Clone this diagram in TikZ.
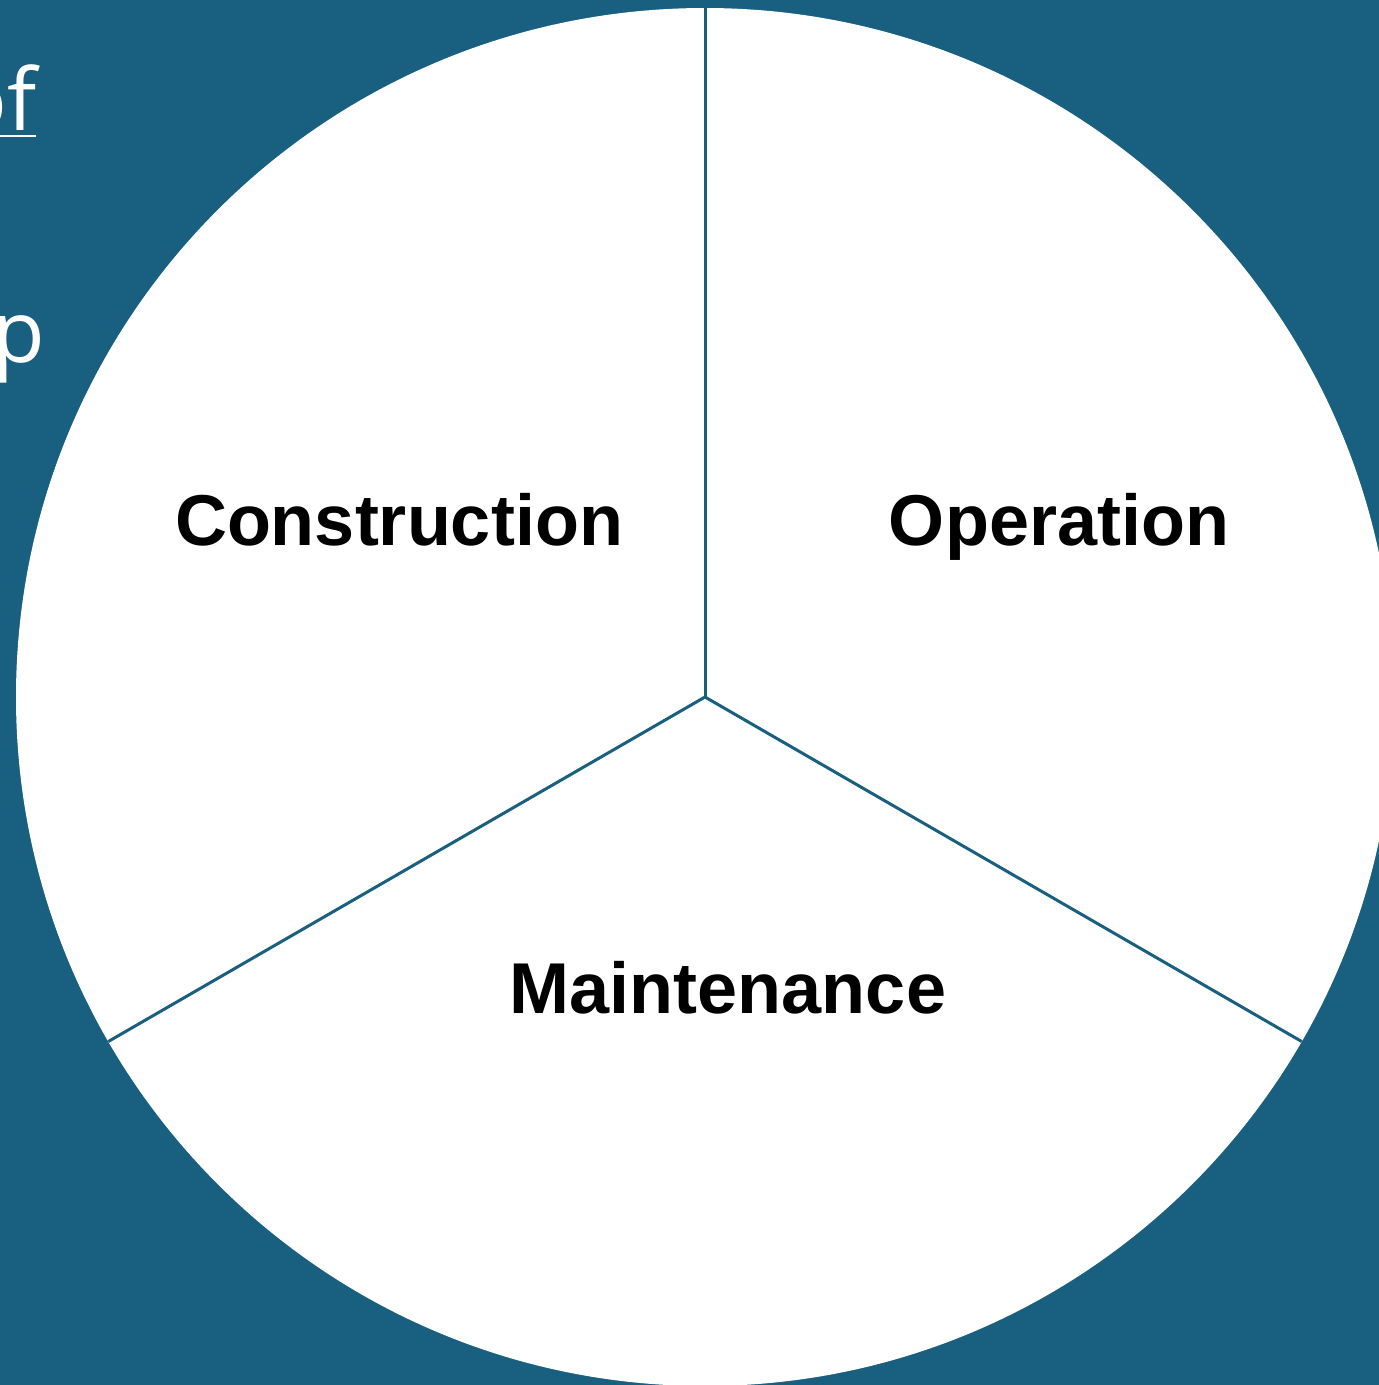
\documentclass[tikz,border=0pt]{standalone}
\usepackage{fontspec}
\usetikzlibrary{calc}
\setmainfont{Liberation Sans}
\newfontfamily\slidefont{Open Sans}
\definecolor{bgblue}{HTML}{185F80}
\tikzset{
  seglabel/.style={font=\fontsize{72}{78}\selectfont\bfseries, text=black, inner sep=0pt, anchor=base},
  slidetext/.style={font=\slidefont\fontsize{86}{90}\selectfont, text=white, inner sep=0pt, anchor=base east},
  divider/.style={draw=bgblue, line width=3pt}
}
\begin{document}
\begin{tikzpicture}[x=1pt,y=-1pt]
\useasboundingbox (0,0) rectangle (1379,1385);
\clip (0,0) rectangle (1379,1385);
\fill[bgblue] (0,0) rectangle (1379,1385);
\node[slidetext] (of) at (37,130) {of};
\draw[white, line width=2.5pt] (0,136) -- (36,136);
\node[slidetext] (p) at (45,362) {p};
\coordinate (c) at (705,697);
\fill[white] (c) circle[radius=689];
\coordinate (top) at ($(c)+(0,-689)$);
\coordinate (bl) at (108.3,1041.5);
\coordinate (br) at (1301.7,1041.5);
\draw[divider] (c) -- (top);
\draw[divider] (c) -- (bl);
\draw[divider] (c) -- (br);
\node[seglabel] (cons) at (399,545) {Construction};
\node[seglabel] (oper) at (1059,545) {Operation};
\node[seglabel] (maint) at (728,1013) {Maintenance};
\end{tikzpicture}
\end{document}
